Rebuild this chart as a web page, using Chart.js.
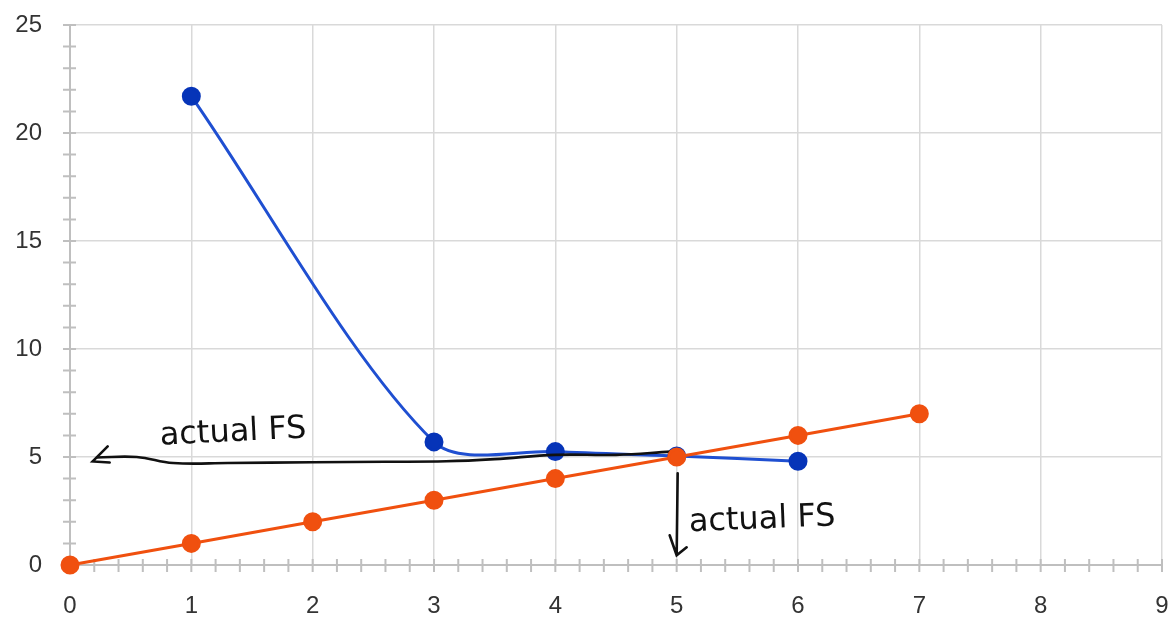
<!DOCTYPE html>
<html>
<head>
<meta charset="utf-8">
<script src="https://cdn.jsdelivr.net/npm/chart.js@4/dist/chart.umd.min.js"></script>
<style>
  html, body { margin: 0; padding: 0; background: #fff; overflow: hidden; }
  #wrap { width: 1173px; height: 617px; position: relative; }
</style>
</head>
<body>
<div id="wrap"><canvas id="fsChart"></canvas></div>
<script>
// series
const blueX = [1, 3, 4, 5, 6];
const blueY = [21.7, 5.7, 5.25, 5.05, 4.8];
const orangeX = [0, 1, 2, 3, 4, 5, 6, 7];
const orangeY = [0, 1, 2, 3, 4, 5, 6, 7];
// hand-drawn "actual FS" stroke
const noteX = [0.22, 0.55, 0.85, 1.3, 2, 2.6, 3.1, 3.5, 4, 4.5, 4.95];
const noteY = [4.98, 5.0, 4.72, 4.72, 4.76, 4.78, 4.8, 4.9, 5.1, 5.1, 5.25];
const noteText = 'actual FS';

const toPoints = (xs, ys) => xs.map((x, i) => ({ x: x, y: ys[i] }));
const isMajor = (v, step) => Math.abs(v / step - Math.round(v / step)) < 1e-6;

const gridGray = '#d9d9d9';
const axisGray = '#bfbfbf';

const extras = {
    id: 'extras',
    // tick marks that cross the axis lines, under the data
    beforeDatasetsDraw(chart) {
        const ctx = chart.ctx;
        const xs = chart.scales.x, ys = chart.scales.y;
        const area = chart.chartArea;
        ctx.save();
        ctx.strokeStyle = axisGray;
        ctx.lineWidth = 2;
        ctx.beginPath();
        xs.ticks.forEach(t => {
            const px = xs.getPixelForValue(t.value);
            ctx.moveTo(px, area.bottom - 6);
            ctx.lineTo(px, area.bottom + 7);
        });
        ys.ticks.forEach(t => {
            const py = ys.getPixelForValue(t.value);
            ctx.moveTo(area.left - 7, py);
            ctx.lineTo(area.left + 6, py);
        });
        ctx.stroke();
        ctx.restore();
    },
    // the hand-written notes on top
    afterDatasetsDraw(chart) {
        const ctx = chart.ctx;
        const xs = chart.scales.x, ys = chart.scales.y;
        ctx.save();
        ctx.strokeStyle = '#111';
        ctx.lineWidth = 2.6;
        ctx.lineCap = 'round';
        const tipX = xs.getPixelForValue(noteX[0]) - 4;
        const tipY = ys.getPixelForValue(noteY[0]) + 4;
        ctx.beginPath();
        ctx.moveTo(tipX + 15, tipY - 15);
        ctx.lineTo(tipX, tipY);
        ctx.lineTo(tipX + 17, tipY + 1);
        const vx = xs.getPixelForValue(5) + 1;
        const vTop = ys.getPixelForValue(4.25);
        const vBot = ys.getPixelForValue(0.45);
        ctx.moveTo(vx, vTop);
        ctx.lineTo(vx - 1, vBot);
        ctx.moveTo(vx - 8, vBot - 20);
        ctx.lineTo(vx - 1, vBot);
        ctx.lineTo(vx + 9, vBot - 8);
        ctx.stroke();

        ctx.fillStyle = '#111';
        ctx.font = '32px "DejaVu Sans"';
        ctx.textBaseline = 'middle';
        ctx.save();
        ctx.translate(xs.getPixelForValue(0.74), ys.getPixelForValue(5.95));
        ctx.rotate(-0.05);
        ctx.fillText(noteText, 0, 0);
        ctx.restore();
        ctx.save();
        ctx.translate(xs.getPixelForValue(5.1), ys.getPixelForValue(1.95));
        ctx.rotate(-0.04);
        ctx.fillText(noteText, 0, 0);
        ctx.restore();
        ctx.restore();
    }
};

new Chart(document.getElementById('fsChart'), {
    type: 'line',
    data: {
        datasets: [
            {
                data: toPoints(orangeX, orangeY),
                borderColor: '#f0500f',
                backgroundColor: '#f0500f',
                pointBorderColor: '#f0500f',
                borderWidth: 3,
                pointRadius: 8,
                pointHoverRadius: 8,
                tension: 0,
                clip: false,
                order: 0
            },
            {
                data: toPoints(noteX, noteY),
                borderColor: '#111',
                borderWidth: 2.6,
                pointRadius: 0,
                tension: 0.4,
                order: 1
            },
            {
                data: toPoints(blueX, blueY),
                borderColor: '#1f4fd1',
                backgroundColor: '#0634b8',
                pointBorderColor: '#0634b8',
                borderWidth: 3,
                pointRadius: 8,
                pointHoverRadius: 8,
                tension: 0.3,
                order: 2
            }
        ]
    },
    options: {
        responsive: true,
        maintainAspectRatio: false,
        animation: false,
        layout: { padding: { top: 25, right: 10, left: 0, bottom: 0 } },
        plugins: { legend: { display: false }, tooltip: { enabled: false } },
        scales: {
            x: {
                type: 'linear',
                min: 0,
                max: 9,
                afterBuildTicks: scale => {
                    scale.ticks = [];
                    for (let i = 0; i <= 45; i++) scale.ticks.push({ value: i / 5 });
                },
                afterFit: scale => {
                    scale.height = 52;
                    scale.paddingLeft = 0;
                    scale.paddingRight = 0;
                },
                border: { color: axisGray, width: 2 },
                grid: {
                    drawTicks: false,
                    color: c => isMajor(c.tick.value, 1) && c.tick.value > 0 ? gridGray : 'rgba(0,0,0,0)',
                    lineWidth: 1.5
                },
                ticks: {
                    autoSkip: false,
                    maxRotation: 0,
                    padding: 27,
                    color: '#333',
                    font: { family: 'Liberation Sans', size: 24 },
                    callback: v => isMajor(v, 1) ? Math.round(v) : ''
                }
            },
            y: {
                min: 0,
                max: 25,
                afterBuildTicks: scale => {
                    scale.ticks = [];
                    for (let i = 0; i <= 25; i++) scale.ticks.push({ value: i });
                },
                afterFit: scale => {
                    scale.width = 70;
                    scale.paddingTop = 0;
                    scale.paddingBottom = 0;
                },
                border: { color: axisGray, width: 2 },
                grid: {
                    drawTicks: false,
                    color: c => isMajor(c.tick.value, 5) && c.tick.value > 0 ? gridGray : 'rgba(0,0,0,0)',
                    lineWidth: 1.5
                },
                ticks: {
                    autoSkip: false,
                    padding: 28,
                    color: '#333',
                    font: { family: 'Liberation Sans', size: 24 },
                    callback: v => isMajor(v, 5) ? v : ''
                }
            }
        }
    },
    plugins: [extras]
});
</script>
</body>
</html>
